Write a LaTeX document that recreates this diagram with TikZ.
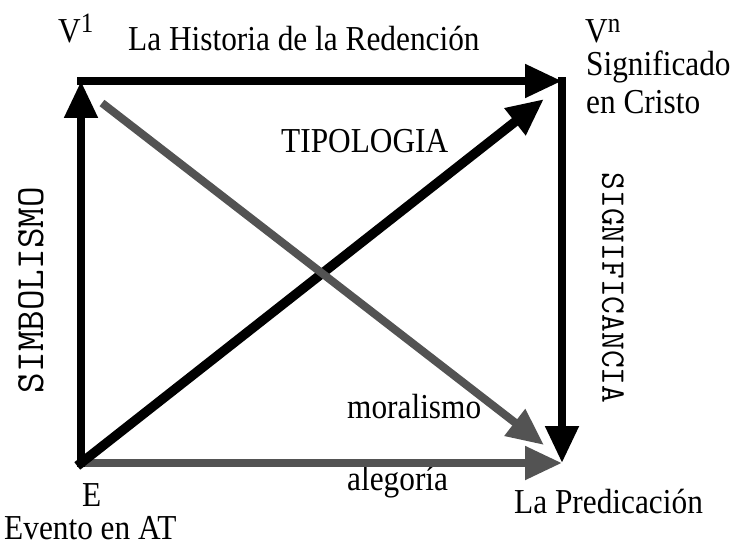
\documentclass[tikz,border=0pt]{standalone}
\usepackage{fontspec}
\setmainfont[FakeStretch=0.895]{Liberation Serif}
\usepackage{xcolor}
\usepackage{tikz}
\usetikzlibrary{arrows.meta, positioning}
\definecolor{predgray}{HTML}{535353}
\newcommand{\supr}[1]{\raisebox{10pt}{\fontsize{28}{28}\selectfont #1}}
\tikzstyle{txt} = [font=\fontsize{35}{40}\selectfont, inner sep=0pt, anchor=base west]
\tikzstyle{vtxt} = [inner sep=0pt]
\tikzstyle{blackarrow} = [line width=8pt, draw=black, line cap=rect, -{Triangle[length=37pt, width=32pt]}]
\tikzstyle{grayarrow} = [line width=8pt, draw=predgray, -{Triangle[length=37pt, width=32pt]}]

\begin{document}
\begin{tikzpicture}[x=1pt, y=-1pt]
\useasboundingbox (0,0) rectangle (733,548);
% Corners
\coordinate (E) at (81,463);
\coordinate (V1) at (81,81);
\coordinate (Vn) at (562,81);
\coordinate (P) at (562,463);
\coordinate (tipT) at (544,99);
\coordinate (startM) at (102,103);
\coordinate (tipM) at (544,445);

% Labels
\node (v1) [txt] at (58,43) {V\supr{1}};
\node (hist) [txt] at (128,51) {La Historia de la Redención};
\node (vn) [txt] at (585,43) {V\supr{n}};
\node (sig) [txt] at (586,76) {Significado};
\node (cristo) [txt] at (586,114) {en Cristo};
\node (tipo) [txt] at (281,153) {TIPOLOGIA};
\node (moral) [txt] at (347,418) {moralismo};
\node (aleg) [txt] at (347,490) {alegoría};
\node (e) [txt] at (82,506) {E};
\node (evento) [txt] at (4,539) {Evento en AT};
\node (pred) [txt] at (514,513) {La Predicación};
\node (simb) [vtxt, font=\ttfamily\fontsize{40}{40}\selectfont, rotate=90] at (31,290) {SIMBOLISMO};
\node (signif) [vtxt, font=\ttfamily\fontsize{34.5}{34.5}\selectfont, rotate=-90] at (613,288) {SIGNIFICANCIA};

% Paths
\draw [grayarrow] (E) -- (P);
\draw [blackarrow] (E) -- (V1);
\draw [blackarrow] (V1) -- (Vn);
\draw [blackarrow] (Vn) -- (P);
\draw [blackarrow, line width=9.5pt] (E) -- (tipT);
\draw [grayarrow] (startM) -- (tipM);

\end{tikzpicture}
\end{document}
